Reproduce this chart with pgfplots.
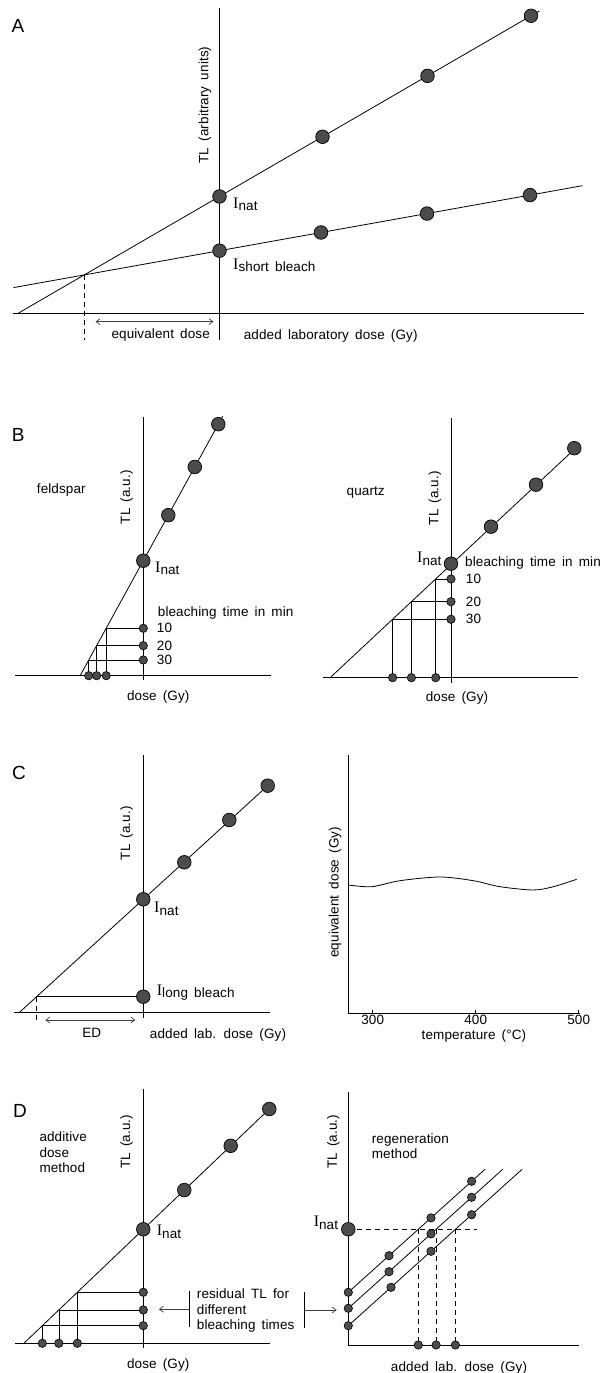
\documentclass[border=0pt]{standalone}
\usepackage{fontspec}
\setmainfont{Liberation Sans}[WordSpace=1.6, LetterSpace=0.8]
\newfontfamily\serifI{Liberation Serif}
\usepackage{pgfplots}
\pgfplotsset{compat=1.18}
\usetikzlibrary{arrows.meta}

\newcommand\lab{\fontsize{13.5}{15.5}\selectfont}
\newcommand\letterfont{\fontsize{19}{19}\selectfont}
\newcommand\Ilab[1]{{\serifI\fontsize{16}{16}\selectfont I}\raisebox{-2.5pt}{#1}}

\pgfplotsset{
  panel/.style={x=1pt, y=1pt, enlargelimits=false, clip=false, anchor=south west,
    axis lines=middle, axis line style={-, black, line width=0.8pt},
    xtick=\empty, ytick=\empty},
  ln/.style={black, line width=0.8pt, no markers},
  thin/.style={black, line width=0.6pt, no markers},
  dsh/.style={black, line width=0.7pt, no markers, dash pattern=on 5pt off 4pt},
  bigdot/.style={only marks, mark=*, mark size=6.8pt, mark options={fill=black!70, draw=black, line width=0.7pt}},
  smldot/.style={only marks, mark=*, mark size=4.2pt, mark options={fill=black!70, draw=black, line width=0.6pt}},
  arr/.style={black!75, line width=0.7pt, no markers, {Straight Barb[length=4pt,width=6pt]}-{Straight Barb[length=4pt,width=6pt]}},
  larr/.style={black!75, line width=0.7pt, no markers, -{Straight Barb[length=4pt,width=6pt]}},
}

\begin{document}
\begin{tikzpicture}
\useasboundingbox (0,0) rectangle (605pt,1373pt);

% ---------------- A ----------------
\begin{axis}[panel, at={(12.5pt,1033pt)}, xmin=-207, xmax=364, ymin=-27, ymax=305]
  \addplot[ln] coordinates {(-200.9,0) (320,302.1)};
  \addplot[ln] coordinates {(-206,25.4) (363,127.3)};
  \addplot[dsh] coordinates {(-135,38) (-135,-27)};
  \addplot[arr] coordinates {(-124,-8.7) (-6,-8.7)};
  \addplot[bigdot] coordinates {(0,116.5) (103,176.2) (208,237.1) (311.5,297.2)};
  \addplot[bigdot] coordinates {(0,62.3) (101.5,80.5) (207.5,99.4) (310.5,117.9)};
  \node[font=\letterfont] at (axis cs:-201.5,287) {A};
  \node[font=\lab, rotate=90] at (axis cs:-14.5,208) {TL (arbitrary units)};
  \node[font=\lab, anchor=west, inner sep=0pt] at (axis cs:13.5,108.7) {\Ilab{nat}};
  \node[font=\lab, anchor=west, inner sep=0pt] at (axis cs:13.5,47.5) {\Ilab{short bleach}};
  \node[font=\lab] at (axis cs:-58.8,-22) {equivalent dose};
  \node[font=\lab] at (axis cs:111.2,-23) {added laboratory dose (Gy)};
\end{axis}

% ---------------- B feldspar ----------------
\begin{axis}[panel, at={(15pt,692.8pt)}, xmin=-128.3, xmax=127.4, ymin=-4.5, ymax=259]
  \addplot[ln] coordinates {(-63.2,0) (79.4,259.5)};
  \addplot[thin] coordinates {(0,47.4) (-37.1,47.4) (-37.1,0)};
  \addplot[thin] coordinates {(0,30) (-46.7,30) (-46.7,0)};
  \addplot[thin] coordinates {(0,15.7) (-54.6,15.7) (-54.6,0)};
  \addplot[bigdot] coordinates {(0,115) (25,160.5) (51.5,208.7) (75,251.5)};
  \addplot[smldot] coordinates {(0,47.4) (0,30) (0,15.7) (-37.1,0) (-46.7,0) (-54.6,0)};
  \node[font=\letterfont] at (axis cs:-125,240.7) {B};
  \node[font=\lab] at (axis cs:-82,185.7) {feldspar};
  \node[font=\lab, rotate=90] at (axis cs:-16.7,178.4) {TL (a.u.)};
  \node[font=\lab, anchor=west, inner sep=0pt] at (axis cs:11.7,107.4) {\Ilab{nat}};
  \node[font=\lab, anchor=west, inner sep=0pt] at (axis cs:14.4,62.4) {bleaching time in min};
  \node[font=\lab, anchor=west, inner sep=0pt] at (axis cs:13.4,47.4) {10};
  \node[font=\lab, anchor=west, inner sep=0pt] at (axis cs:13.4,30) {20};
  \node[font=\lab, anchor=west, inner sep=0pt] at (axis cs:13.4,15.7) {30};
  \node[font=\lab] at (axis cs:15,-21) {dose (Gy)};
\end{axis}

% ---------------- B quartz ----------------
\begin{axis}[panel, at={(322.7pt,689.7pt)}, xmin=-128.3, xmax=127.3, ymin=-5.6, ymax=259.4]
  \addplot[ln] coordinates {(-120.9,0) (128.3,233)};
  \addplot[thin] coordinates {(0,98.7) (-15.3,98.7) (-15.3,0)};
  \addplot[thin] coordinates {(0,76) (-39.6,76) (-39.6,0)};
  \addplot[thin] coordinates {(0,58.4) (-58.4,58.4) (-58.4,0)};
  \addplot[bigdot] coordinates {(0,114) (40,151) (85,193) (123.3,229.5)};
  \addplot[smldot] coordinates {(0,98.7) (0,76) (0,58.4) (-15.3,0) (-39.6,0) (-58.4,0)};
  \node[font=\lab] at (axis cs:-85.3,185.4) {quartz};
  \node[font=\lab, rotate=90] at (axis cs:-16,179.4) {TL (a.u.)};
  \node[font=\lab, anchor=east, inner sep=0pt] at (axis cs:-9.3,118.7) {\Ilab{nat}};
  \node[font=\lab, anchor=west, inner sep=0pt] at (axis cs:14,115) {bleaching time in min};
  \node[font=\lab, anchor=west, inner sep=0pt] at (axis cs:14.7,98.7) {10};
  \node[font=\lab, anchor=west, inner sep=0pt] at (axis cs:14.7,76) {20};
  \node[font=\lab, anchor=west, inner sep=0pt] at (axis cs:14.7,58.4) {30};
  \node[font=\lab] at (axis cs:6,-20) {dose (Gy)};
\end{axis}

% ---------------- C additive ----------------
\begin{axis}[panel, at={(14pt,354.8pt)}, xmin=-129.3, xmax=126.7, ymin=-5.5, ymax=257.7]
  \addplot[ln] coordinates {(-124.2,0) (127,229.4)};
  \addplot[thin] coordinates {(0,16) (-106.7,16)};
  \addplot[dsh] coordinates {(-106.7,16) (-106.7,-8)};
  \addplot[arr] coordinates {(-98,-7.3) (-8,-7.3)};
  \addplot[bigdot] coordinates {(0,113.4) (41,150.4) (86,192.7) (124.4,227) (0,16)};
  \node[font=\letterfont] at (axis cs:-124.3,239.4) {C};
  \node[font=\lab, rotate=90] at (axis cs:-16.6,179.4) {TL (a.u.)};
  \node[font=\lab, anchor=west, inner sep=0pt] at (axis cs:10.7,103.7) {\Ilab{nat}};
  \node[font=\lab, anchor=west, inner sep=0pt] at (axis cs:13.4,20) {\Ilab{long bleach}};
  \node[font=\lab] at (axis cs:-51.6,-20.3) {ED};
  \node[font=\lab] at (axis cs:74.7,-22.3) {added lab. dose (Gy)};
\end{axis}

% ---------------- C plateau ----------------
\begin{axis}[at={(348.3pt,359.7pt)}, anchor=south west, x=1.03pt, y=1pt,
    xmin=276.3, xmax=501.5, ymin=0, ymax=258, enlargelimits=false, clip=false,
    axis lines=left, axis line style={-, black, line width=0.8pt},
    xtick={300,400,500}, xticklabels={300,400,500}, ytick=\empty,
    tick align=inside, major tick length=3pt, tick style={black, line width=0.6pt},
    xticklabel style={font=\lab, inner sep=1pt, yshift=-1pt}]
  \addplot[ln, smooth] coordinates {(276.3,128.3) (299,126.6) (326.5,132.6) (365.3,136.3)
    (397.7,132.6) (423.6,126.6) (456,123.3) (475.4,126.6) (498,134)};
  \node[font=\lab, rotate=90] at (axis cs:263.4,121) {equivalent dose (Gy)};
  \node[font=\lab] at (axis cs:398.3,-22.7) {temperature (°C)};
\end{axis}

% ---------------- D additive ----------------
\begin{axis}[panel, at={(15pt,25pt)}, xmin=-128.3, xmax=126.7, ymin=-4.7, ymax=254]
  \addplot[ln] coordinates {(-119.4,0) (128,236.2)};
  \addplot[thin] coordinates {(0,51) (-66,51) (-66,0)};
  \addplot[thin] coordinates {(0,33.3) (-84.5,33.3) (-84.5,0)};
  \addplot[thin] coordinates {(0,17.6) (-101,17.6) (-101,0)};
  \addplot[bigdot] coordinates {(0,114) (41,153.2) (87.4,197.5) (126,234.3)};
  \addplot[smldot] coordinates {(0,51) (0,33.3) (0,17.6) (-66,0) (-84.5,0) (-101,0)};
  \addplot[thin] coordinates {(46,52.6) (46,16.6)};
  \addplot[larr] coordinates {(46,34) (15.6,34)};
  \addplot[thin] coordinates {(161.4,51.6) (161.4,15)};
  \addplot[larr] coordinates {(161.4,33.3) (193.4,33.3)};
  \node[font=\letterfont] at (axis cs:-123.3,232.3) {D};
  \node[font=\lab, rotate=90] at (axis cs:-16.6,201.6) {TL (a.u.)};
  \node[font=\lab, anchor=west, align=left, inner sep=0pt] at (axis cs:-104,191) {additive\\dose\\method};
  \node[font=\lab, anchor=west, inner sep=0pt] at (axis cs:13.4,111.3) {\Ilab{nat}};
  \node[font=\lab, anchor=west, align=left, inner sep=0pt] at (axis cs:53.4,32.6) {residual TL for\\different\\bleaching times};
  \node[font=\lab] at (axis cs:15,-21.7) {dose (Gy)};
\end{axis}

% ---------------- D regeneration ----------------
\begin{axis}[panel, axis lines=left, axis line style={-}, at={(348.3pt,28pt)}, xmin=0, xmax=231, ymin=0, ymax=253.3]
  \addplot[ln] coordinates {(0,52.7) (136.7,175.7)};
  \addplot[ln] coordinates {(0,36.7) (154.4,175.7)};
  \addplot[ln] coordinates {(0,19.3) (173.8,175.7)};
  \addplot[dsh] coordinates {(0,115.7) (128.3,115.7)};
  \addplot[dsh] coordinates {(70,115.7) (70,0)};
  \addplot[dsh] coordinates {(87.8,115.7) (87.8,0)};
  \addplot[dsh] coordinates {(107.1,115.7) (107.1,0)};
  \addplot[bigdot] coordinates {(0,115.7)};
  \addplot[smldot] coordinates {(0,52.7) (40.7,89.3) (82.7,127.1) (123.3,163.7)};
  \addplot[smldot] coordinates {(0,36.7) (40.7,73.3) (82.7,111.1) (123.3,147.7)};
  \addplot[smldot] coordinates {(0,19.3) (42.7,57.7) (82.7,93.7) (123.3,130.3)};
  \addplot[smldot] coordinates {(70,0) (87.8,0) (107.1,0)};
  \node[font=\lab, anchor=east, inner sep=0pt] at (axis cs:-10,122) {\Ilab{nat}};
  \node[font=\lab, anchor=west, align=left, inner sep=0pt] at (axis cs:23.4,199) {regeneration\\method};
  \node[font=\lab, rotate=90] at (axis cs:-15,203.3) {TL (a.u.)};
  \node[font=\lab] at (axis cs:110.7,-23.3) {added lab. dose (Gy)};
\end{axis}
\end{tikzpicture}
\end{document}
